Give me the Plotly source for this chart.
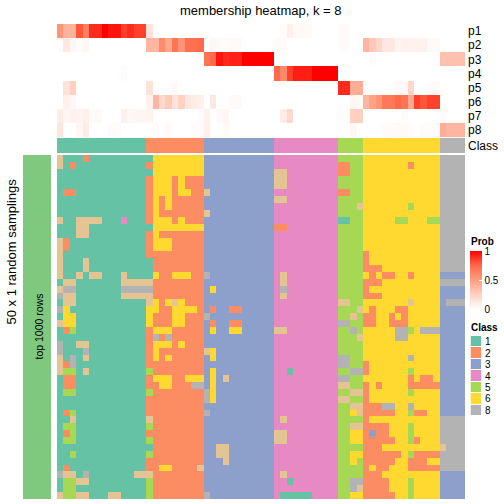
import plotly.graph_objects as go

CLASS_SIZES = [14, 9, 11, 10, 4, 12, 4]
CLASS_IDS = [1, 2, 3, 4, 5, 6, 8]
CLASS_COLORS = ["#66C2A5", "#FC8D62", "#8DA0CB", "#E78AC3", "#A6D854", "#FFD92F", "#E5C494", "#B3B3B3"]
LEGEND_IDS = ["1", "2", "3", "4", "5", "6", "8"]
ROW_LABELS = ["p1", "p2", "p3", "p4", "p5", "p6", "p7", "p8"]
PROB_SCALE = [[0, "#FFFFFF"], [0.25, "#FFD0C1"], [0.5, "#FF9E81"], [0.75, "#FF6A4A"], [1, "#FF0000"]]
PROB_TICKS = [0, 0.5, 1]

p1 = [.55, .4, .4, .8, .65, .9, .9, 1, .95, .95, .85, .9, .85, .85, .15] + [0] * 20 + [.02, .08, .03, .03, .03] + [0] * 4 + [.02, .02] + [0] * 18
p2 = [.02, .12, .04, .02, .04] + [0] * 9 + [.38, .38, .6, .45, .7, .55, .72, .72, .75, 0, .04, .02, .02, .03, .03] + [0] * 5 + [.02, .02] + [0] * 8 + [.02, .02, 0, 0, .38, .28, .22, .12, .12, .06, .07, .07, .07, .07, .03, .03] + [0] * 4
p3 = [0] * 23 + [.7, .75, .95, .9, .92, .92, 1, 1, 1, 1, 1] + [0] * 15 + [.02] + [0] * 10 + [.33, .33, .33, .33]
p4 = [0] * 10 + [.02] + [0] * 23 + [.75, .6, .85, .93, .93, .93, 1, 1, 1, 1] + [0] * 20
p5 = [0, .15, .25] + [0] * 11 + [.15, 0, 0, 0, .03] + [0] * 25 + [.9, .9, .42, .42] + [0] * 5 + [.03, .03, .22, 0, 0, .02, .02, 0, 0, 0, 0]
p6 = [0, .08, .04] + [0] * 11 + [.08, .38, .2, .28, .15, .24, .13, .1, .08, 0, .12, 0, 0, .03, .03] + [0] * 17 + [.05, .03, .38, .48, .55, .68, .68, .75, .7, .45, .85, .8, .85, .85, 0, 0, 0, 0]
p7 = [.1, .05, .07, .06, .08, .03, .03, 0, 0, 0, .07, .04, .05, .05, .06] + [0] * 7 + [.02, .07, 0, .03, .05] + [0] * 8 + [.1, .2] + [0] * 9 + [.25, .25] + [0] * 6 + [.02] + [0] * 5 + [.02, 0, 0, 0]
p8 = [.14, 0, 0, .04, .1, 0, 0, 0, .02, .02] + [0] * 5 + [.02, 0, .03, 0, 0, 0, .02, .02, .08, 0, 0, .03] + [0] * 19 + [.04, 0, 0, 0, 0, .02, .02, .03, .03, .015, 0, .02, .02, .02, .42, .38, .38, .38]
PROB_ROWS = [p1, p2, p3, p4, p5, p6, p7, p8]

# Rows of the sampling heatmap: runs (first column, last column, class) differing from the column's class.
SAMPLE_RUNS = [
    [(0,0,7),(4,4,2),(14,14,1),(15,22,6)],
    [(0,0,7),(2,2,2),(15,22,6),(44,45,2),(55,55,2)],
    [(14,14,1),(15,22,6),(34,35,7),(44,45,2)],
    [(15,17,6),(19,19,6),(34,35,7)],
    [(15,17,6),(19,19,6),(34,35,7)],
    [(1,2,2),(15,17,6),(19,20,6),(23,23,7),(44,45,2)],
    [(15,15,6),(17,17,6),(34,35,7)],
    [(15,15,6),(17,17,6),(47,47,7),(55,55,5)],
    [(15,15,6),(23,23,7)],
    [(0,0,7),(3,6,7),(10,10,4),(15,17,6),(19,19,6),(44,45,1),(53,54,5),(58,59,5)],
    [(3,4,7),(14,14,1),(15,22,6),(34,35,2)],
    [(3,4,7),(15,15,6)],
    [(0,0,7),(1,1,2),(15,17,6)],
    [(0,0,7),(1,1,2),(15,17,6)],
    [(0,0,7),(48,48,2)],
    [(0,0,7),(4,4,7),(14,14,1),(48,48,2)],
    [(0,0,7),(4,4,7),(14,14,1),(48,50,2)],
    [(0,0,7),(3,3,7),(5,6,7),(10,10,7),(14,14,1),(15,15,6),(18,20,6),(23,23,8),(35,35,7),(49,49,2),(51,52,2),(55,55,2),(60,63,3)],
    [(1,2,7),(10,14,7),(35,35,7),(48,50,2)],
    [(0,0,7),(1,2,8),(10,14,8),(24,24,6),(35,35,8),(48,48,2),(60,63,3)],
    [(0,0,8),(1,2,7),(10,14,7),(35,35,7),(48,50,2),(60,63,3)],
    [(1,2,7),(14,14,7),(15,15,6),(17,17,6),(18,18,7),(19,19,6),(44,45,7),(55,55,7),(60,60,3)],
    [(0,0,8),(1,1,6),(14,15,6),(18,21,6),(24,24,2),(27,28,2),(47,47,7),(49,49,2),(53,54,2),(60,63,3)],
    [(1,2,6),(14,14,6),(18,19,6),(23,23,8),(46,46,7),(48,49,2),(52,52,2),(54,54,2),(60,63,3)],
    [(0,0,7),(1,2,6),(14,14,6),(18,19,6),(24,24,2),(27,28,2),(44,45,8),(48,49,2),(52,54,2),(60,63,3)],
    [(1,1,2),(2,2,5),(15,17,6),(24,24,6),(27,28,6),(34,35,7),(46,46,8),(53,54,8),(55,55,5),(57,59,8),(60,63,3)],
    [(15,15,8),(17,17,8),(47,47,7),(53,54,8),(60,63,3)],
    [(0,0,8),(3,4,7),(15,17,6),(19,19,6),(60,63,3)],
    [(0,0,8),(4,4,8),(15,15,6),(23,23,7),(24,24,6),(60,63,3)],
    [(0,0,7),(2,2,8),(4,4,7),(15,15,6),(17,17,6),(24,24,6),(44,45,8),(55,55,8),(60,63,3)],
    [(0,0,7),(1,1,2),(2,2,8),(44,45,8),(48,48,2),(60,63,3)],
    [(0,0,7),(1,2,5),(4,4,7),(14,14,5),(24,24,6),(36,36,1),(46,47,8),(48,48,2),(55,55,5),(60,63,3)],
    [(1,2,2),(15,17,6),(20,22,6),(24,24,6),(26,26,7),(44,45,8),(55,55,2),(57,58,2),(60,63,3)],
    [(1,2,2),(16,17,6),(21,22,8),(24,24,6),(44,45,7),(48,48,2),(50,50,2),(55,59,2),(60,63,3)],
    [(1,2,5),(14,14,5),(23,23,8),(24,24,6),(46,47,7),(48,48,2),(55,55,5),(60,63,3)],
    [(23,23,8),(24,24,6),(44,45,7),(48,48,2),(60,63,3)],
    [(46,47,7),(48,50,2),(51,52,8),(55,55,8),(60,63,3)],
    [(1,1,2),(2,2,5),(23,23,8),(46,46,6),(47,47,7),(48,52,2),(55,55,5),(56,57,2),(60,63,3)],
    [(2,2,7),(14,14,7),(35,35,7),(48,48,2)],
    [(1,2,5),(14,14,5),(46,47,7),(48,51,2),(55,55,5)],
    [(1,1,2),(2,2,5),(34,35,7),(46,47,6),(48,48,2),(49,49,3),(50,51,2),(55,55,5)],
    [(1,2,5),(14,14,5),(34,35,7),(46,47,6),(48,52,2),(55,55,5),(56,56,2)],
    [(14,14,1),(25,26,7),(48,50,2),(60,60,7)],
    [(2,2,5),(14,14,5),(25,26,7),(46,47,6),(48,53,2),(55,55,5),(56,59,2)],
    [(26,26,7),(46,46,6),(47,47,5),(48,52,2),(55,57,2)],
    [(1,1,2),(16,17,6),(22,22,7),(48,48,2),(49,49,6),(50,51,2),(55,59,2)],
    [(0,0,8),(1,2,7),(4,4,8),(12,14,7),(35,35,7),(48,50,2),(60,63,3)],
    [(1,2,5),(3,4,7),(14,14,5),(36,36,1),(46,47,8),(48,51,2),(55,55,5),(60,63,3)],
    [(1,2,5),(14,14,5),(46,46,8),(47,47,7),(48,51,2),(55,55,5),(60,63,3)],
    [(0,0,7),(1,2,5),(3,4,7),(8,9,7),(14,14,5),(23,23,8),(35,39,1),(46,47,6),(48,52,2),(55,55,5),(60,63,3)],
]

W = H = 504.0
column_class = [c for c, n in zip(CLASS_IDS, CLASS_SIZES) for _ in range(n)]
samples = []
for runs in SAMPLE_RUNS:
    row = list(column_class)
    for a, b, c in runs:
        row[a:b + 1] = [c] * (b - a + 1)
    samples.append(row)

class_scale = []
for i, c in enumerate(CLASS_COLORS):
    class_scale += [[i / 8, c], [(i + 1) / 8, c]]

FONT = "Liberation Sans"
def dom_x(a, b):
    return [a / W, b / W]
def dom_y(top, bottom):
    return [1 - bottom / W, 1 - top / W]
hidden = dict(visible=False, showgrid=False, zeroline=False)
labels = dict(showgrid=False, zeroline=False, side="right", ticks="", showline=False, ticklabelstandoff=2,
              tickfont=dict(family=FONT, size=12, color="#000"))

fig = go.Figure()
fig.add_trace(go.Heatmap(z=PROB_ROWS, y=ROW_LABELS, coloraxis="coloraxis", xaxis="x", yaxis="y", hoverongaps=False))
fig.add_trace(go.Heatmap(z=[column_class], y=["Class"], colorscale=class_scale, zmin=0.5, zmax=8.5, showscale=False, xaxis="x2", yaxis="y2"))
fig.add_trace(go.Heatmap(z=samples, colorscale=class_scale, zmin=0.5, zmax=8.5, showscale=False, xaxis="x3", yaxis="y3"))
fig.add_trace(go.Heatmap(z=[[1]], colorscale=[[0, "#7FC97F"], [1, "#7FC97F"]], showscale=False, xaxis="x4", yaxis="y4"))
fig.add_trace(go.Heatmap(z=[[c] for c in CLASS_IDS], y=LEGEND_IDS, ygap=1, colorscale=class_scale, zmin=0.5, zmax=8.5, showscale=False, xaxis="x5", yaxis="y5"))

fig.update_layout(
    width=504, height=504, margin=dict(l=0, r=0, t=0, b=0), autosize=False,
    paper_bgcolor="white", plot_bgcolor="white", showlegend=False,
    xaxis=dict(domain=dom_x(57, 465), **hidden),
    yaxis=dict(domain=dom_y(24, 137), autorange="reversed", anchor="x", tickmode="array", tickvals=ROW_LABELS, **labels),
    xaxis2=dict(domain=dom_x(57, 465), anchor="y2", **hidden),
    yaxis2=dict(domain=dom_y(138, 153), anchor="x2", **labels),
    xaxis3=dict(domain=dom_x(57, 465), anchor="y3", **hidden),
    yaxis3=dict(domain=dom_y(155, 499), autorange="reversed", anchor="x3", **hidden),
    xaxis4=dict(domain=dom_x(23, 51), anchor="y4", **hidden),
    yaxis4=dict(domain=dom_y(155, 499), anchor="x4", **hidden),
    xaxis5=dict(domain=dom_x(470.5, 481), anchor="y5", **hidden),
    yaxis5=dict(domain=dom_y(336, 416), autorange="reversed", anchor="x5", type="category",
                tickmode="array", tickvals=LEGEND_IDS, ticktext=LEGEND_IDS,
                **{**labels, "tickfont": dict(family=FONT, size=10, color="#000"), "ticklabelstandoff": 3}),
    coloraxis=dict(
        colorscale=PROB_SCALE, cmin=0, cmax=1,
        colorbar=dict(
            x=470 / W, xanchor="left", y=1 - 251 / W, yanchor="top",
            len=58, lenmode="pixels", thickness=11.5, thicknessmode="pixels",
            xpad=0, ypad=0, outlinewidth=0, borderwidth=0,
            tickvals=PROB_TICKS, ticktext=["0", "0.5", "1"], ticks="inside", ticklen=3, tickcolor="white",
            tickfont=dict(family=FONT, size=10, color="#000"),
        ),
    ),
    annotations=[
        dict(text="membership heatmap, k = 8", x=261 / W, y=1 - 10 / W, showarrow=False, xref="paper", yref="paper",
             xanchor="center", yanchor="middle", font=dict(family=FONT, size=13, color="#000")),
        dict(text="50 x 1 random samplings", x=10.5 / W, y=1 - 252 / W, textangle=-90, showarrow=False, xref="paper", yref="paper",
             xanchor="center", yanchor="middle", font=dict(family=FONT, size=13, color="#000")),
        dict(text="top 1000 rows", x=38.5 / W, y=1 - 327 / W, textangle=-90, showarrow=False, xref="paper", yref="paper",
             xanchor="center", yanchor="middle", font=dict(family=FONT, size=10.5, color="#000")),
        dict(text="<b>Prob</b>", x=470 / W, y=1 - 241.5 / W, showarrow=False, xref="paper", yref="paper",
             xanchor="left", yanchor="middle", font=dict(family=FONT, size=10, color="#000"), xshift=-1),
        dict(text="<b>Class</b>", x=470 / W, y=1 - 327 / W, showarrow=False, xref="paper", yref="paper",
             xanchor="left", yanchor="middle", font=dict(family=FONT, size=10, color="#000"), xshift=-1),
    ],
)
fig.write_html("out.html", post_script="document.body.style.margin='0';", config=dict(displayModeBar=False))
